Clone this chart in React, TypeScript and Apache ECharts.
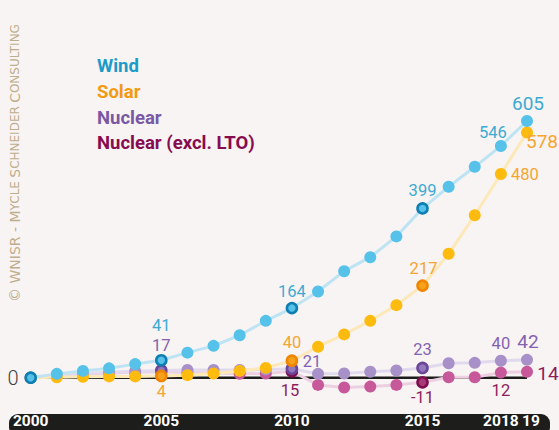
import React, { useEffect, useRef } from "react";
import * as echarts from "echarts";

const years = [2000, 2001, 2002, 2003, 2004, 2005, 2006, 2007, 2008, 2009, 2010, 2011, 2012, 2013, 2014, 2015, 2016, 2017, 2018, 2019];
const wind = [0, 9, 16, 22, 32, 41, 59, 75, 100, 134, 164, 203, 251, 284, 333, 399, 450, 497, 546, 605];
const solar = [0, 1, 2, 3, 3, 4, 6, 10, 16, 23, 40, 73, 102, 134, 171, 217, 292, 383, 480, 578];
const nuclear = [0, 5, 9, 13, 15, 17, 18, 18, 18, 19, 21, 9, 10, 14, 17, 23, 34, 35, 40, 42];
const nuclearExclLTO = [0, 4, 8, 11, 13, 14, 12, 11, 9, 10, 15, -17, -23, -21, -17, -11, 1, 1, 12, 14];
const xTickLabels: Record<number, string> = { 2000: "2000", 2005: "2005", 2010: "2010", 2015: "2015", 2018: "2018", 2019: "{r|19}" };
const seriesNames = ["Wind", "Solar", "Nuclear", "Nuclear (excl. LTO)"];

type LabelSpec = Record<number, [number, number]>;

function buildSeries(
  name: string,
  values: number[],
  pointColor: string,
  lineColor: string,
  hiFill: string,
  hiBorder: string,
  labelColor: string,
  highlights: number[],
  labels: LabelSpec,
  z: number
) {
  const data = years.map((yr, i) => {
    const item: any = { value: [yr, values[i]] };
    if (highlights.includes(yr)) {
      item.symbolSize = 10;
      item.itemStyle = { color: hiFill, borderColor: hiBorder, borderWidth: 2.6 };
    }
    if (labels[yr]) {
      item.label = {
        show: true,
        position: "inside",
        offset: labels[yr],
        formatter: String(values[i]),
        color: labelColor,
        fontSize: yr === 2019 ? 19 : 16.5,
        fontFamily: "Roboto",
        fontWeight: 400,
      };
    }
    return item;
  });
  return {
    type: "line",
    name,
    z,
    data,
    symbol: "circle",
    symbolSize: 12,
    showAllSymbol: true,
    itemStyle: { color: pointColor, borderWidth: 0 },
    lineStyle: { color: lineColor, width: 3 },
    label: { show: false },
    emphasis: { disabled: true },
  };
}

export default function App() {
  const ref = useRef<HTMLDivElement>(null);
  useEffect(() => {
    if (!ref.current) return;
    const chart = echarts.init(ref.current, null, { renderer: "svg" });
    const option: any = {
      animation: false,
      backgroundColor: "#f8f4f3",
      grid: { left: 30.7, right: 32, top: 101.9, bottom: 31.1, outerBoundsMode: "none", containLabel: false },
      xAxis: {
        type: "value",
        min: 2000,
        max: 2019,
        interval: 1,
        z: 10,
        axisLine: { show: false },
        axisTick: { show: false },
        splitLine: { show: false },
        axisLabel: {
          margin: 14,
          color: "#ffffff",
          fontFamily: "Roboto",
          fontWeight: "bold",
          fontSize: 15.5,
          showMaxLabel: true,
          showMinLabel: true,
          hideOverlap: false,
          formatter: (v: number) => xTickLabels[v] || "",
          rich: {
            r: { padding: [0, 0, 0, 8], color: "#ffffff", fontFamily: "Roboto", fontWeight: "bold", fontSize: 15.5 },
          },
        },
      },
      yAxis: {
        type: "value",
        min: -50,
        max: 650,
        interval: 50,
        axisLine: { show: false },
        axisTick: { show: false },
        splitLine: { show: false },
        axisLabel: {
          margin: 12,
          color: "#3e3e3e",
          fontFamily: "Roboto",
          fontWeight: 300,
          fontSize: 20,
          formatter: (v: number) => (v === 0 ? "0" : ""),
        },
      },
      graphic: [
        { type: "rect", z: -10, shape: { x: 9, y: 414, width: 541, height: 22, r: 9 }, style: { fill: "#1d1d1b" } },
        {
          type: "text",
          x: 15,
          y: 163,
          rotation: Math.PI / 2,
          style: {
            text: "{b|© WNISR - M}{s|YCLE} {b|S}{s|CHNEIDER} {b|C}{s|ONSULTING}",
            align: "center",
            verticalAlign: "middle",
            rich: {
              b: { fontSize: 14, fontFamily: "DejaVu Sans", fill: "#bfae8c" },
              s: { fontSize: 12, fontFamily: "DejaVu Sans", fill: "#bfae8c" },
            },
          },
        },
        { type: "text", x: 97, y: 66, style: { text: seriesNames[0], fill: "#1b9bc9", fontSize: 18.5, fontWeight: "bold", fontFamily: "Roboto", verticalAlign: "middle" } },
        { type: "text", x: 97, y: 91.5, style: { text: seriesNames[1], fill: "#f39a10", fontSize: 18.5, fontWeight: "bold", fontFamily: "Roboto", verticalAlign: "middle" } },
        { type: "text", x: 97, y: 117.5, style: { text: seriesNames[2], fill: "#7a58a6", fontSize: 18.5, fontWeight: "bold", fontFamily: "Roboto", verticalAlign: "middle" } },
        { type: "text", x: 97, y: 142.5, style: { text: seriesNames[3], fill: "#870b50", fontSize: 18.5, fontWeight: "bold", fontFamily: "Roboto", verticalAlign: "middle" } },
      ],
      series: [
        {
          type: "line",
          name: "baseline",
          z: 1,
          data: [[years[0], 0], [years[years.length - 1], 0]],
          symbol: "none",
          lineStyle: { color: "#1d1d1b", width: 2.5 },
          emphasis: { disabled: true },
        },
        buildSeries(seriesNames[3], nuclearExclLTO, "#c7599b", "#ecd0e1", "#a83a7a", "#7d0f4f", "#8c1d5d", [2010, 2015],
          { 2010: [-2, 19], 2015: [0, 15], 2018: [0, 18], 2019: [21, 2] }, 2),
        buildSeries(seriesNames[2], nuclear, "#a791c8", "#e1d9ee", "#9278bd", "#6b4597", "#8462b0", [2005, 2010, 2015],
          { 2005: [0, -25], 2010: [20, -7], 2015: [0, -18], 2018: [0, -17], 2019: [1, -18] }, 3),
        buildSeries(seriesNames[1], solar, "#fdbb10", "#fde8b8", "#f7a01a", "#ef8500", "#f5a532", [2005, 2010, 2015],
          { 2005: [0, 16], 2010: [0, -18], 2015: [1, -17], 2018: [24, 0], 2019: [15, 9] }, 4),
        buildSeries(seriesNames[0], wind, "#56c2e9", "#bee4f4", "#56c2e9", "#0f7eb2", "#3daad4", [2000, 2005, 2010, 2015],
          { 2005: [0, -35], 2010: [0, -17], 2015: [0, -18], 2018: [-8, -14], 2019: [1, -17] }, 5),
      ],
    };
    chart.setOption(option);
    return () => chart.dispose();
  }, []);
  return <div ref={ref} style={{ position: "fixed", left: 0, top: 0, width: 559, height: 430 }} />;
}
